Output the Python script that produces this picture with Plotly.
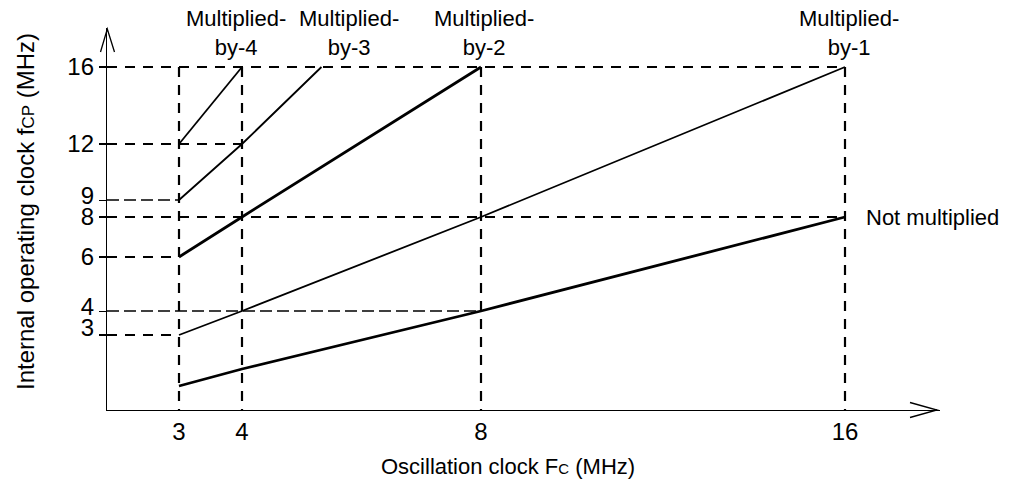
"""
Oscillation clock vs internal operating clock (schematic)
"""

import numpy as np
import plotly.graph_objects as go

# ---- data ----
FC_NOT_MULT = [3, 4, 8, 16]
FCP_NOT_MULT = [1.5, 2, 4, 8]

FC_MULT1 = [3, 4, 8, 16]
FCP_MULT1 = [3, 4, 8, 16]

FC_MULT2 = [3, 4, 8]
FCP_MULT2 = [6, 8, 16]

FC_MULT3 = [3, 4, 5.33]
FCP_MULT3 = [9, 12, 16]

FC_MULT4 = [3, 4]
FCP_MULT4 = [12, 16]

X_TICKS = [3, 4, 8, 16]
Y_TICKS_A = [6, 8, 12, 16]
Y_TICKS_B = [4, 9]
Y_TICKS_C = [3]

# dashed guide lines: horizontal (fcp level, ends at Fc), vertical (Fc, up to fcp 16)
GUIDE_FCP = [16, 12, 9, 8, 6, 4, 3]
GUIDE_FC_END = [16, 4, 3, 16, 3, 8, 3]
GUIDE_THIN = [9, 4]
VGUIDE_FC = [3, 4, 8, 16]

# ---- schematic axis scale (the drawing is not to scale) ----
W, H = 1011, 486
OFF = 8  # page body margin
X_KNOTS = [0, 3, 4, 8, 16]
X_PIX = [107, 179, 242, 481, 845]
Y_KNOTS = [0, 1.5, 3, 4, 6, 8, 9, 12, 16]
Y_PIX = [410, 386, 335, 311, 257, 217, 200, 144, 67]


def fx(v):
    return np.interp(v, X_KNOTS, X_PIX)


def fy(v):
    return H - np.interp(v, Y_KNOTS, Y_PIX)


L, R, T, B = 107, 940, 28, 410
FONT = "Liberation Sans, Arial, sans-serif"
FS = 22


def paper(px, py):
    return (px - L) / (R - L), (B - py) / (B - T)


fig = go.Figure()

# 破线
for lv, end in zip(GUIDE_FCP, GUIDE_FC_END):
    thin = lv in GUIDE_THIN
    fig.add_trace(go.Scatter(
        x=[fx(0), fx(end)], y=[fy(lv), fy(lv)], mode='lines',
        line=dict(color='black', width=1.3 if thin else 2.2,
                  dash='12px,5px' if thin else '10px,8px'),
        hoverinfo='skip', showlegend=False))

for v in VGUIDE_FC:
    fig.add_trace(go.Scatter(
        x=[fx(v), fx(v)], y=[fy(16), fy(0)], mode='lines',
        line=dict(color='black', width=2.2, dash='10px,8px'),
        hoverinfo='skip', showlegend=False))

# 实线
lines = [
    (FC_NOT_MULT, FCP_NOT_MULT, 'Not multiplied', 2.8),
    (FC_MULT1, FCP_MULT1, 'Multiplied-by-1', 1.8),
    (FC_MULT2, FCP_MULT2, 'Multiplied-by-2', 2.8),
    (FC_MULT3, FCP_MULT3, 'Multiplied-by-3', 1.8),
    (FC_MULT4, FCP_MULT4, 'Multiplied-by-4', 1.8),
]
for xs, ys, name, w in lines:
    fig.add_trace(go.Scatter(
        x=fx(xs), y=fy(ys), mode='lines', name=name,
        line=dict(color='black', width=w), showlegend=False))

# 标签
labels = [
    ('Multiplied-<br>by-4', 236),
    ('Multiplied-<br>by-3', 349),
    ('Multiplied-<br>by-2', 484),
    ('Multiplied-<br>by-1', 849),
]
for txt, px in labels:
    xp, yp = paper(px, 33)
    fig.add_annotation(x=xp, y=yp, xref='paper', yref='paper', text=txt,
                       showarrow=False, xanchor='center', yanchor='middle',
                       font=dict(family=FONT, size=FS, color='black'))
xp, yp = paper(864, 217)
fig.add_annotation(x=xp, y=yp, xref='paper', yref='paper', text='Not multiplied',
                   showarrow=False, xanchor='left', yanchor='middle',
                   font=dict(family=FONT, size=FS, color='black'))

# 轴标题
xp, yp = paper(508, 466)
fig.add_annotation(x=xp, y=yp, xref='paper', yref='paper',
                   xanchor='center', yanchor='middle',
                   text="Oscillation clock F<span style='font-size:15px'>C</span> (MHz)",
                   showarrow=False, font=dict(family=FONT, size=FS, color='black'))
xp, yp = paper(26, 212)
fig.add_annotation(x=xp, y=yp, xref='paper', yref='paper', textangle=-90,
                   xanchor='center', yanchor='middle',
                   text="Internal operating clock f<span style='font-size:17px'>CP</span> (MHz)",
                   showarrow=False, font=dict(family=FONT, size=24, color='black'))

# 箭头
ax = [paper(910, 402.5), paper(937, 410), paper(910, 417.5)]
ay = [paper(100.5, 52), paper(107.3, 29), paper(114.5, 52)]
for pts in (ax, ay):
    path = 'M {} {} L {} {} L {} {}'.format(*[c for p in pts for c in p])
    fig.add_shape(type='path', path=path, xref='paper', yref='paper',
                  line=dict(color='black', width=1.3))

tickfont = dict(family=FONT, size=24, color='black')


def y_ticks(vals, width, shift):
    return dict(range=[H - B, H - T], showgrid=False, zeroline=False,
                tickvals=fy(vals), ticktext=[str(v) for v in vals],
                ticks='outside', ticklen=7, tickwidth=width, tickcolor='black',
                ticklabelshift=shift, tickfont=tickfont)


fig.update_layout(
    width=W, height=H, autosize=False,
    margin=dict(l=L - OFF, r=W - R + OFF, t=T - OFF, b=H - B + OFF, pad=0),
    plot_bgcolor='white', paper_bgcolor='white',
    xaxis=dict(range=[L, R], tickvals=fx(X_TICKS), ticktext=[str(v) for v in X_TICKS],
               ticks='', showgrid=False, zeroline=False, showline=True,
               linecolor='black', linewidth=1.3, tickfont=tickfont),
    yaxis=dict(showline=True, linecolor='black', linewidth=1.3,
               **y_ticks(Y_TICKS_A, 2.2, 0)),
    yaxis2=dict(overlaying='y', side='left', showline=False, **y_ticks(Y_TICKS_B, 1.3, -4)),
    yaxis3=dict(overlaying='y', side='left', showline=False, **y_ticks(Y_TICKS_C, 2.2, -7)),
)
# overlay axes need a trace each to be drawn
fig.add_trace(go.Scatter(x=[None], y=[None], yaxis='y2', showlegend=False, hoverinfo='skip'))
fig.add_trace(go.Scatter(x=[None], y=[None], yaxis='y3', showlegend=False, hoverinfo='skip'))

fig.write_html("out.html")
